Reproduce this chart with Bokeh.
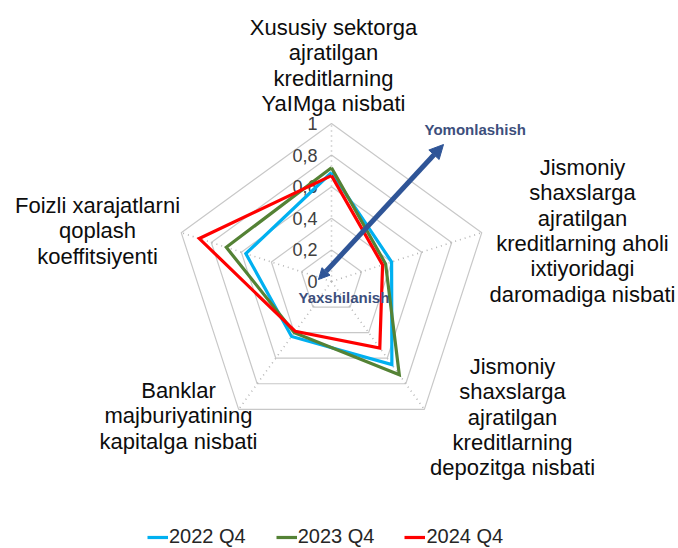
import math
from bokeh.plotting import figure
from bokeh.models import Range1d, Arrow, NormalHead, Legend, LegendItem
from bokeh.core.properties import value
from bokeh.embed import file_html
from bokeh.resources import INLINE

# ---------------- data ----------------
categories = [
    "Xususiy sektorga\najratilgan\nkreditlarning\nYaIMga nisbati",
    "Jismoniy\nshaxslarga\najratilgan\nkreditlarning aholi\nixtiyoridagi\ndaromadiga nisbati",
    "Jismoniy\nshaxslarga\najratilgan\nkreditlarning\ndepozitga nisbati",
    "Banklar\nmajburiyatining\nkapitalga nisbati",
    "Foizli xarajatlarni\nqoplash\nkoeffitsiyenti",
]
series_names = ["2022 Q4", "2023 Q4", "2024 Q4"]
values_2022 = [0.69, 0.40, 0.65, 0.43, 0.57]
values_2023 = [0.72, 0.36, 0.73, 0.40, 0.70]
values_2024 = [0.67, 0.34, 0.52, 0.39, 0.88]
tick_values = [0, 0.2, 0.4, 0.6, 0.8, 1.0]
tick_labels = ["0", "0,2", "0,4", "0,6", "0,8", "1"]
arrow_labels = ["Yomonlashish", "Yaxshilanish"]

# ---------------- layout ----------------
W, H = 678, 548
CX, CY, R = 331, 281, 158          # centre & radius in page pixels
FONT = "Liberation Sans"
colors = ["#00B0F0", "#548235", "#FF0000"]
# label anchors: (centre x, first line centre y)
label_anchor = [(333, 27), (582, 167), (512, 366), (178, 390), (97, 205)]
LINE_H = 25.3

p = figure(width=W, height=H, output_backend="svg", toolbar_location=None,
           x_range=Range1d(0, W), y_range=Range1d(H, 0), min_border=0)
p.axis.visible = False
p.grid.visible = False
p.outline_line_color = None
p.background_fill_color = "white"

n = len(categories)
angles = [2 * math.pi * k / n for k in range(n)]

def px(r, a):
    return CX + r * R * math.sin(a)

def py(r, a):
    return CY - r * R * math.cos(a)

# rings
ring_xs = [[px(t, a) for a in angles] + [px(t, angles[0])] for t in tick_values[1:]]
ring_ys = [[py(t, a) for a in angles] + [py(t, angles[0])] for t in tick_values[1:]]
p.multi_line(ring_xs, ring_ys, line_color="#C8C8C8", line_width=1.2)

# spokes
p.segment(x0=[CX] * n, y0=[CY] * n,
          x1=[px(1, a) for a in angles], y1=[py(1, a) for a in angles],
          line_color="#B4B4B4", line_width=1.6, line_dash="1 4")

# tick labels
p.text(x=[CX] * len(tick_values), y=[py(t, 0) for t in tick_values], text=tick_labels,
       x_offset=-14, text_align="right", text_baseline="middle",
       text_font=value(FONT), text_font_size="18px", text_color="#404040")

# series
renderers = []
for name, vals, col in zip(series_names, [values_2022, values_2023, values_2024], colors):
    xs = [px(v, a) for v, a in zip(vals, angles)] + [px(vals[0], angles[0])]
    ys = [py(v, a) for v, a in zip(vals, angles)] + [py(vals[0], angles[0])]
    r = p.line(xs, ys, line_color=col, line_width=3.2, line_join="miter")
    renderers.append(r)

# category labels
lx, ly, lt = [], [], []
for cat, (ax, ay) in zip(categories, label_anchor):
    for i, line in enumerate(cat.split("\n")):
        lx.append(ax)
        ly.append(ay + i * LINE_H)
        lt.append(line)
p.text(x=lx, y=ly, text=lt, text_align="center", text_baseline="middle",
       text_font=value(FONT), text_font_size="22px", text_color="#0D0D0D")

# arrow
acol = "#2F5597"
p.add_layout(Arrow(x_start=318, y_start=279, x_end=443, y_end=144,
                   line_color=acol, line_width=5,
                   start=NormalHead(size=11, fill_color=acol, line_color=acol),
                   end=NormalHead(size=14, fill_color=acol, line_color=acol)))
p.text(x=[424, 298], y=[129, 297], text=arrow_labels, text_align="left",
       text_baseline="middle", text_font=value(FONT), text_font_size="15px",
       text_font_style="bold", text_color="#3D4F7C")

legend = Legend(items=[LegendItem(label=nm, renderers=[r]) for nm, r in zip(series_names, renderers)],
                orientation="horizontal", location=(147, 0), padding=0, margin=0,
                spacing=30, glyph_width=21, glyph_height=20, label_standoff=1,
                label_text_font=FONT, label_text_font_size="20px", label_text_color="#262626",
                border_line_color=None, background_fill_alpha=0)
p.add_layout(legend, "center")

open("out.html", "w").write(file_html(p, INLINE))
